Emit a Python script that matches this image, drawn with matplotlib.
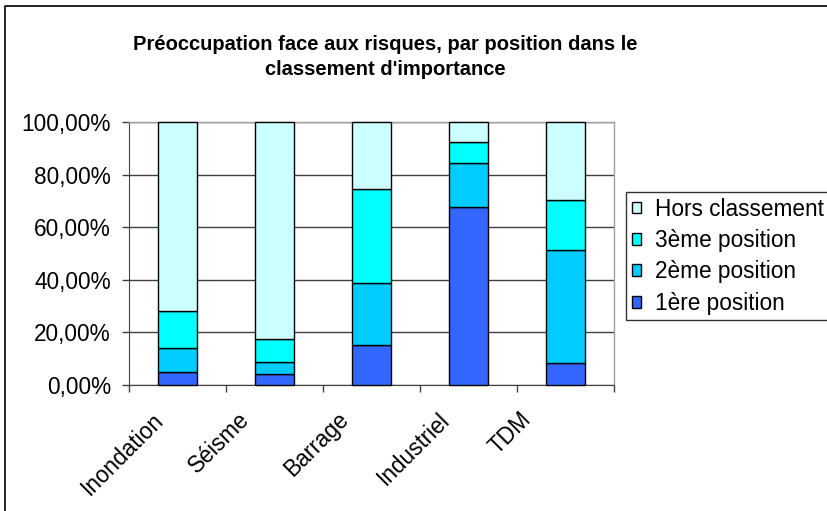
import matplotlib
matplotlib.use("Agg")
import matplotlib.pyplot as plt
from matplotlib.lines import Line2D
from matplotlib.ticker import FuncFormatter
from matplotlib.transforms import ScaledTranslation
import numpy as np

plt.rcParams['font.family'] = ['Liberation Sans', 'DejaVu Sans']

categories = ["Inondation", "Séisme", "Barrage", "Industriel", "TDM"]
series_names = ["1ère position", "2ème position", "3ème position", "Hors classement"]
premiere = [4.8, 4.1, 15.2, 67.8, 8.5]
deuxieme = [9.4, 4.5, 23.6, 16.6, 42.8]
troisieme = [14.0, 8.8, 35.7, 8.0, 19.1]
hors = [71.8, 82.6, 25.5, 7.6, 29.6]
colors = ["#3366FF", "#00CCFF", "#00FFFF", "#CCFFFF"]
title_lines = ["Préoccupation face aux risques, par position dans le",
               "classement d'importance"]

FS = 16.3
W, H = 828, 511
fig = plt.figure(figsize=(W / 100, H / 100), dpi=100)
ax = fig.add_axes([129 / W, 1 - 385 / H, (614 - 129) / W, (385 - 122) / H])

x = np.arange(len(categories))
bottom = np.zeros(len(categories))
handles = []
for vals, name, col in zip([premiere, deuxieme, troisieme, hors], series_names, colors):
    b = ax.bar(x, vals, width=0.405, bottom=bottom, color=col, edgecolor="black",
               linewidth=1.0, label=name, zorder=3, clip_on=False)
    handles.append(b)
    bottom = np.round(bottom + np.array(vals), 6)

ax.set_xlim(-0.5, len(categories) - 0.5)
ax.set_ylim(0, 100)
ax.set_yticks(np.arange(0, 101, 20))
ax.yaxis.set_major_formatter(FuncFormatter(lambda v, p: f"{v:.2f}".replace(".", ",") + "%"))
ax.set_xticks(np.arange(-0.5, len(categories), 1.0))
ax.set_xticklabels([])
ax.tick_params(axis="x", which="major", length=5, width=1, direction="out", color="#404040")
ax.tick_params(axis="y", length=5, width=1, direction="out", labelsize=FS, pad=8, color="#404040")

lab_tr = ax.get_xaxis_transform() + ScaledTranslation(-55 / 100, -23 / 100, fig.dpi_scale_trans)
for xi, name in zip(x, categories):
    ax.text(xi, 0, name, transform=lab_tr, rotation=45, ha="center", va="top",
            fontsize=FS)

ax.grid(axis="y", color="#404040", linewidth=1, zorder=0)
for s in ["top", "right"]:
    ax.spines[s].set_color("#A0A0A0")
    ax.spines[s].set_linewidth(1)
ax.spines["left"].set_color("#404040")
ax.spines["bottom"].set_color("#404040")

leg = fig.legend(handles=handles[::-1], labels=series_names[::-1],
                 loc="upper left", bbox_to_anchor=(626 / W, 1 - 192 / H),
                 frameon=True, fancybox=False, edgecolor="black", fontsize=FS,
                 handlelength=0.42, handleheight=0.42, handletextpad=0.6,
                 labelspacing=0.37, borderpad=0.25, borderaxespad=0)
leg.get_frame().set_linewidth(1)

fig.text(385 / W, 1 - 50 / H, title_lines[0], ha="center", va="baseline",
         fontsize=14.5, fontweight="bold")
fig.text(385 / W, 1 - 75 / H, title_lines[1], ha="center", va="baseline",
         fontsize=14.5, fontweight="bold")

fig.add_artist(Line2D([5 / W, 5 / W, 1.0], [0.0, 1 - 6 / H, 1 - 6 / H],
                      transform=fig.transFigure, color="black", linewidth=1.2))

fig.savefig("out.png", dpi=100)
